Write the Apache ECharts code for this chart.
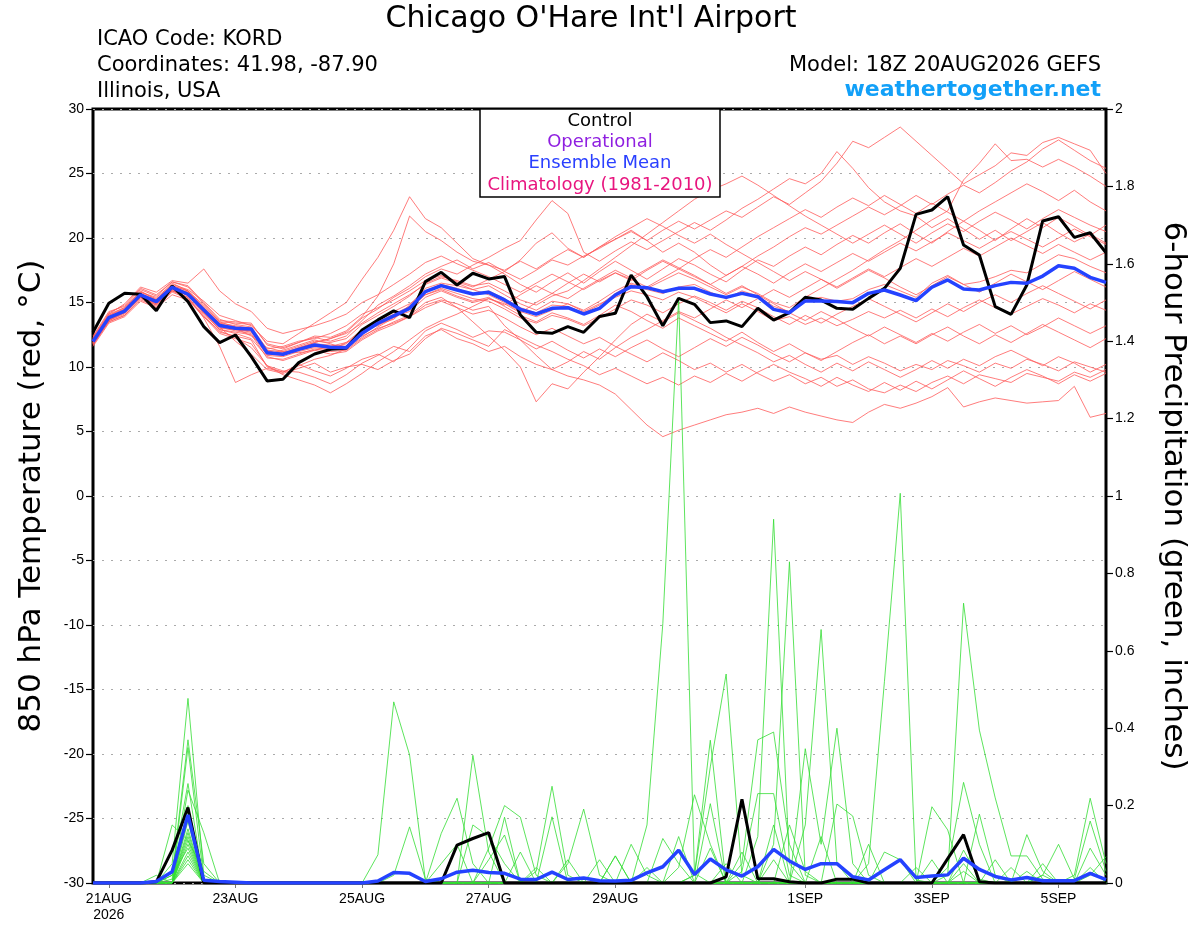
<!DOCTYPE html>
<html>
<head>
<meta charset="utf-8">
<script src="https://cdn.jsdelivr.net/npm/echarts/dist/echarts.min.js"></script>
<style>html,body{margin:0;padding:0;background:#fff}#c{width:1200px;height:927px}</style>
</head>
<body>
<div id="c"></div>
<script>
// forecast hours from 18Z 20AUG2026, every 6 h
const hours = [];
for (let h = 0; h <= 384; h += 6) hours.push(h);
const tickIdx = [1, 9, 17, 25, 33, 45, 53, 61];
const tickText = ['21AUG\n2026', '23AUG', '25AUG', '27AUG', '29AUG', '1SEP', '3SEP', '5SEP'];

// ensemble mean & control 850 hPa temperature (C)
const meanT = [
 11.97,13.83,14.34,15.59,15.07,16.18,15.64,14.42,13.21,13.0,12.95,11.11,10.99,
 11.37,11.71,11.53,11.50,12.61,13.39,13.96,14.55,15.84,16.31,15.97,15.66,15.79,
 15.20,14.47,14.11,14.55,14.60,14.11,14.55,15.58,16.23,16.15,15.84,16.10,16.10,
 15.66,15.40,15.71,15.45,14.47,14.21,15.12,15.12,15.07,14.99,15.71,15.97,15.58,
 15.14,16.18,16.75,16.05,15.97,16.31,16.56,16.49,17.05,17.85,17.65,16.95,16.56];
const controlT = [
 12.7,14.94,15.71,15.64,14.37,16.28,15.07,13.13,11.89,12.48,10.80,8.92,9.05,
 10.34,11.01,11.37,11.45,12.87,13.65,14.35,13.83,16.62,17.34,16.36,17.27,16.83,
 17.01,14.03,12.69,12.61,13.13,12.69,13.91,14.16,17.13,15.45,13.20,15.32,14.86,
 13.44,13.57,13.13,14.55,13.64,14.21,15.40,15.19,14.55,14.47,15.32,16.10,17.65,
 21.83,22.17,23.20,19.46,18.68,14.68,14.08,16.36,21.32,21.65,20.05,20.41,18.86];

// ensemble member temperatures
const t01 = [12.1,14.0,14.6,15.8,15.4,16.4,16.0,15.1,14.0,13.6,13.2,12.0,11.8,
 12.6,13.4,14.2,15.0,16.8,18.5,20.6,23.2,21.5,20.8,19.6,18.4,17.9,
 17.2,16.4,15.8,16.6,17.3,16.5,17.4,18.2,17.5,16.8,17.6,18.4,17.9,
 17.2,16.6,17.5,18.3,17.8,18.6,19.3,18.7,19.5,20.2,19.6,20.4,21.1,
 20.3,19.6,20.5,21.3,20.6,19.8,20.7,21.5,20.8,21.6,20.9,20.2,21.0];
const t02 = [11.7,13.5,14.0,15.2,14.7,15.8,15.3,13.9,12.6,12.2,11.8,10.1,9.7,
 9.6,9.2,8.7,9.4,10.3,10.9,11.6,11.2,12.4,12.9,12.2,11.8,11.2,
 11.6,10.8,10.2,9.8,9.3,9.0,8.6,7.9,6.7,5.5,4.6,5.1,5.5,
 5.9,6.3,6.5,6.8,6.4,6.9,6.5,6.2,5.9,5.7,6.5,7.1,6.8,
 7.2,7.7,8.4,6.9,7.3,7.6,7.4,7.2,7.3,7.4,8.5,6.1,6.4];
const t03 = [12.0,13.9,14.5,15.9,15.2,16.5,15.9,14.8,13.5,13.4,13.3,11.8,11.5,
 11.9,12.3,12.0,12.4,13.6,14.8,15.5,16.3,17.2,17.8,18.3,17.6,18.1,
 17.4,16.8,17.5,18.3,17.9,18.6,19.2,19.9,20.5,19.8,20.6,21.3,20.7,
 21.4,22.1,21.6,22.4,23.2,22.6,23.5,24.4,25.8,27.5,27.0,27.8,28.6,
 27.5,26.4,25.3,24.2,24.9,25.6,26.6,26.4,27.4,27.8,27.3,26.8,25.0];
const t04 = [12.3,14.2,14.8,16.1,15.6,16.6,16.3,15.0,13.7,13.3,13.1,11.4,11.6,
 12.0,12.2,12.6,13.2,14.1,14.6,15.2,15.9,16.7,17.1,16.6,16.2,16.8,
 17.4,18.3,19.6,20.4,19.2,18.5,19.3,19.9,20.6,19.8,18.9,19.6,18.9,
 17.9,17.1,17.8,18.6,19.3,20.1,20.8,20.3,21.0,21.7,22.4,21.8,22.5,
 23.3,22.6,23.4,24.1,23.5,24.3,25.2,25.9,26.9,27.6,26.8,26.0,25.4];
const t05 = [11.8,13.7,14.4,15.5,15.1,16.0,15.8,14.6,13.4,12.9,12.7,11.3,10.9,
 11.5,11.9,12.2,12.7,13.8,14.5,15.4,16.1,17.0,17.6,17.2,17.9,18.5,
 19.2,19.8,21.4,22.9,21.9,18.9,18.2,19.0,19.7,19.1,19.8,20.5,21.2,
 20.6,21.4,22.3,23.0,23.8,24.6,24.2,25.0,26.7,25.4,23.9,22.8,22.1,
 21.7,20.8,21.5,20.7,19.9,20.6,19.8,20.5,21.2,20.4,19.7,20.3,19.6];
const t06 = [11.9,13.6,14.1,15.4,14.8,16.1,15.5,14.2,12.9,12.6,12.2,10.8,10.5,
 10.9,11.3,11.0,11.2,12.1,12.8,13.3,13.9,14.6,15.1,14.6,14.1,14.4,
 13.8,13.1,12.5,13.0,12.4,11.8,12.3,11.6,11.0,10.4,11.1,10.5,9.8,
 10.3,9.6,10.2,9.5,8.9,9.4,8.7,9.2,8.5,9.0,8.3,8.0,8.6,
 8.1,8.8,9.3,8.7,9.4,9.1,8.8,9.5,9.2,8.9,9.6,9.2,9.8];
const t07 = [12.2,13.9,14.2,15.4,14.9,15.9,15.4,13.8,11.6,8.8,9.4,9.9,9.6,
 10.1,10.6,10.9,11.4,12.3,13.1,13.8,14.5,15.6,16.0,15.5,15.1,15.4,
 14.7,14.0,13.5,14.2,13.8,13.3,14.0,14.8,14.3,13.6,13.0,13.8,13.2,
 12.6,12.0,12.7,11.9,11.2,11.8,11.1,10.6,10.9,10.2,10.8,10.3,9.7,
 10.2,9.8,10.5,10.1,9.6,10.3,9.9,10.6,10.2,9.7,10.4,10.0,9.6];
const t08 = [11.6,13.4,13.9,15.1,14.6,15.6,15.2,13.9,12.8,12.3,11.5,10.1,9.4,
 9.0,8.6,8.0,8.7,9.5,10.4,11.2,12.1,13.0,13.6,14.1,14.7,15.3,
 14.8,15.6,16.3,15.7,16.5,17.2,16.6,17.3,16.7,17.5,18.2,17.6,18.4,
 19.1,18.5,19.3,20.1,20.8,21.5,22.2,21.6,22.4,23.1,22.5,23.3,22.6,
 21.9,22.7,22.0,21.3,22.1,22.8,23.5,24.2,23.6,22.9,23.7,22.8,22.1];
const t09 = [11.9,13.8,14.4,15.7,15.1,16.2,15.8,14.5,13.3,13.1,13.0,11.2,11.1,
 11.5,11.8,11.7,11.6,12.7,13.5,14.1,14.7,15.9,16.4,16.1,15.6,15.9,
 15.3,14.6,14.2,14.8,14.7,14.2,14.8,15.7,16.4,16.0,15.7,16.2,16.4,
 15.8,15.3,15.9,15.5,14.7,14.3,15.2,15.4,15.1,15.3,16.0,16.4,15.9,
 15.4,16.5,17.1,16.4,16.6,17.0,17.5,17.3,18.0,18.7,18.4,17.8,17.3];
const t10 = [12.0,13.7,14.2,15.5,15.0,16.0,15.6,14.3,13.1,12.8,12.6,10.9,10.8,
 11.2,11.5,11.3,11.9,12.9,13.2,13.9,14.3,15.4,15.9,15.4,15.0,15.3,
 14.9,14.2,15.0,15.7,15.3,16.1,16.8,17.5,16.9,17.6,18.3,17.7,17.1,
 16.4,15.7,16.3,15.6,14.9,14.2,13.6,14.3,13.7,13.0,12.4,13.1,12.5,
 11.9,12.6,12.0,12.7,13.3,12.6,13.2,12.5,13.1,13.8,13.2,12.6,13.2];
const t11 = [12.4,14.3,14.7,16.0,15.5,16.6,16.2,14.9,13.6,13.5,13.4,11.7,11.4,
 11.9,12.4,12.3,12.8,13.9,15.5,18.0,21.7,20.5,19.8,18.9,18.2,17.9,
 17.5,18.2,17.6,18.4,19.1,18.5,19.3,20.1,20.8,21.5,20.9,20.2,19.6,
 20.3,19.5,18.8,18.1,17.4,16.7,17.4,16.8,16.1,16.8,17.5,16.9,16.2,
 15.6,16.3,17.0,16.4,15.8,16.5,17.2,16.6,16.0,16.7,17.4,16.8,16.2];
const t12 = [11.8,13.5,14.0,15.3,14.8,15.9,15.4,14.0,12.7,12.4,12.1,10.0,9.6,
 10.2,9.7,9.3,9.9,10.6,11.0,10.4,11.5,12.8,13.4,12.9,12.3,12.8,
 12.7,12.1,11.4,12.0,11.3,10.7,11.4,10.8,11.5,12.1,11.4,10.8,11.5,
 12.2,11.6,12.3,11.7,11.0,10.4,11.1,10.5,11.2,11.9,12.5,11.8,12.4,
 11.8,12.5,13.1,12.4,11.8,12.5,11.9,12.6,13.3,12.7,12.1,11.5,12.2];
const t13 = [12.1,14.1,14.6,15.8,15.3,16.3,15.9,14.6,13.4,13.2,13.0,11.3,11.2,
 11.6,12.0,11.9,12.2,13.3,14.0,14.7,15.5,16.5,17.0,16.7,16.3,16.5,
 15.9,15.2,14.8,15.5,15.9,16.7,17.6,18.5,19.4,20.3,21.2,22.1,23.0,
 23.7,24.2,24.8,24.1,23.3,22.5,21.7,21.0,20.3,19.6,20.3,21.0,20.3,
 19.6,20.4,21.1,20.5,21.3,22.0,21.4,20.7,21.5,22.2,21.6,21.0,20.5];
const t14 = [11.7,13.6,14.2,15.4,14.9,16.0,15.6,14.1,12.9,12.7,12.5,10.7,10.6,
 11.0,11.4,11.2,11.3,12.2,12.9,13.5,14.0,15.0,15.4,14.6,13.5,12.4,
 11.3,10.0,7.3,8.7,8.3,9.6,10.8,12.1,13.3,14.1,13.5,14.2,13.6,
 13.0,12.3,11.7,11.1,10.4,10.9,10.2,9.6,10.3,9.7,10.4,9.8,9.2,
 9.8,10.5,9.9,10.6,10.1,10.8,11.3,10.7,10.1,10.8,10.3,9.6,10.2];
const t15 = [12.0,13.9,14.4,15.6,15.2,16.1,15.7,14.5,13.3,12.9,12.8,11.0,11.3,
 11.7,12.1,11.8,11.4,12.5,13.3,13.7,14.8,16.1,16.5,16.3,16.0,15.6,
 15.0,14.3,13.9,14.4,14.9,14.3,14.9,15.4,15.9,15.6,15.2,15.8,15.4,
 14.8,14.2,14.9,14.3,13.6,13.9,13.3,13.8,13.2,13.7,14.3,13.8,14.4,
 13.8,14.5,13.9,14.6,15.2,14.6,14.1,14.7,15.3,14.8,14.2,14.9,14.4];
const t16 = [12.3,14.1,14.9,16.2,15.8,16.7,16.5,17.6,15.9,14.9,14.3,13.0,12.6,
 12.9,13.2,13.6,14.1,15.0,15.6,16.4,17.2,18.1,18.6,18.0,17.5,17.0,
 16.4,15.8,16.5,17.2,16.6,16.0,16.7,17.3,16.8,16.2,16.9,17.6,17.0,
 16.4,17.1,17.8,17.2,16.5,17.3,18.0,17.4,18.1,18.8,18.2,18.9,19.6,
 19.0,19.7,20.4,19.8,19.2,19.9,20.5,19.9,19.3,20.0,20.7,20.1,19.5];
const t17 = [11.9,13.7,14.3,15.5,14.9,16.1,15.6,14.2,13.0,12.9,12.8,11.0,10.9,
 11.3,11.6,11.4,11.8,12.8,13.6,14.3,14.9,15.6,16.1,15.7,15.3,15.1,
 14.5,13.8,13.4,14.0,13.7,13.2,13.8,14.5,15.2,14.8,14.2,14.9,15.5,
 15.0,14.4,15.1,14.6,13.9,13.3,14.0,13.4,14.1,14.7,15.3,14.7,14.1,
 13.5,14.2,14.9,14.3,15.0,15.6,15.0,15.7,16.3,15.7,15.1,14.5,15.2];
const t18 = [12.2,14.0,14.5,15.7,15.2,16.3,15.9,14.7,13.5,13.1,12.9,11.2,11.0,
 11.4,11.9,12.2,12.6,13.4,14.2,14.9,15.6,16.4,16.9,16.5,16.0,16.3,
 15.6,14.9,14.4,15.1,14.9,14.4,15.1,15.9,16.5,16.1,16.7,17.3,16.8,
 16.2,15.6,16.2,15.7,15.0,14.6,15.4,16.1,16.8,17.5,18.3,19.1,19.8,
 20.6,21.4,22.1,24.5,25.8,27.3,26.0,26.1,25.5,26.1,25.5,24.8,24.0];
const t19 = [11.8,13.8,14.3,15.6,15.1,16.2,15.7,14.4,13.2,13.0,12.4,11.5,11.2,
 11.1,11.3,11.6,11.9,12.4,13.0,13.4,13.9,14.8,15.2,14.9,14.4,14.7,
 13.2,12.1,10.9,9.8,10.4,11.2,10.6,11.5,12.3,12.9,13.6,14.3,13.8,
 14.5,15.2,14.6,15.3,16.0,15.4,16.1,16.8,16.2,16.9,17.6,17.0,17.7,
 18.4,17.8,18.5,19.2,18.6,19.3,20.0,19.4,18.8,19.5,18.9,18.3,18.9];
const t20 = [11.9,13.6,14.3,15.4,15.0,15.9,15.6,14.3,13.1,12.0,11.0,9.8,9.5,
 9.9,10.3,9.6,10.0,10.2,9.8,10.5,11.0,12.2,13.0,12.6,12.1,11.6,
 12.9,12.3,11.7,11.2,10.6,10.1,9.4,9.9,9.3,8.7,9.2,8.6,9.3,
 8.8,9.5,8.9,9.6,10.2,9.6,9.1,8.5,9.2,8.6,8.1,8.8,8.2,
 8.9,8.3,9.0,9.7,9.1,8.5,9.2,9.8,9.3,8.7,9.4,8.9,9.5];
const tempMembers = [t01,t02,t03,t04,t05,t06,t07,t08,t09,t10,t11,t12,t13,t14,t15,t16,t17,t18,t19,t20];

// 6-hour precipitation (inches): mean & control
const meanP = [
 0,0,0,0,0.004,0.029,0.176,0.007,0.004,0.002,0,0,0,
 0,0,0,0,0,0.005,0.027,0.025,0.004,0.011,0.028,0.033,0.027,
 0.025,0.010,0.009,0.028,0.009,0.013,0.006,0.005,0.007,0.026,0.042,0.085,0.022,
 0.062,0.034,0.018,0.042,0.087,0.057,0.035,0.050,0.050,0.016,0.008,0.034,0.060,
 0.014,0.018,0.021,0.064,0.035,0.017,0.008,0.014,0.006,0.006,0.006,0.025,0.009];
const controlP = [
 0,0,0,0,0.003,0.085,0.195,0,0,0,0,0,0,
 0,0,0,0,0,0,0,0,0,0,0.098,0.115,0.13,
 0,0,0,0,0,0,0,0,0,0,0,0,0,
 0,0.016,0.216,0.011,0.011,0.003,0,0,0.01,0.01,0,0,0,
 0,0,0.063,0.125,0.003,0,0,0,0,0,0,0,0];

// ensemble member precipitation
const p01 = [0,0,0,0,0,0.05,0.477,0.02,0,0,0,0,0, 0,0,0,0,0,0,0,0,0,0,0,0.33,0.08,
 0,0,0,0,0,0,0,0,0,0.15,0.67,1.51,0.025, 0,0,0,0,0,0,0,0,0,0,0,0,0, 0,0,0,0.05,0,0,0,0,0,0,0,0,0];
const p02 = [0,0,0,0,0,0.02,0.37,0.05,0,0,0,0,0, 0,0,0,0,0,0,0,0,0,0,0,0,0,
 0,0,0.03,0.25,0.02,0,0,0,0,0,0,0,0, 0,0,0,0.12,0.94,0.05,0,0,0,0,0,0,0, 0,0,0,0,0,0,0,0,0,0,0,0,0];
const p03 = [0,0,0,0,0,0.01,0.35,0.01,0,0,0,0,0, 0,0,0,0,0,0,0,0,0,0,0,0,0,
 0,0,0,0,0,0,0,0,0,0,0,0,0, 0,0,0,0,0.10,0.83,0.02,0,0,0,0,0,0, 0,0,0,0,0,0,0,0,0.02,0,0,0,0];
const p04 = [0,0,0,0,0,0.03,0.257,0,0,0,0,0,0, 0,0,0,0,0,0.073,0.468,0.331,0.007,0,0,0,0,
 0,0,0,0,0,0,0,0,0,0,0,0,0, 0,0,0,0,0,0,0.15,0.655,0.05,0,0,0,0, 0,0,0,0,0,0,0,0,0,0,0,0,0];
const p05 = [0,0,0,0,0,0,0.24,0.13,0,0,0,0,0, 0,0,0,0,0,0,0,0,0,0,0,0,0,
 0,0,0,0,0,0,0,0,0,0,0,0,0, 0,0,0,0,0,0,0,0,0,0,0.05,0.52,1.007, 0.008,0,0,0,0,0,0,0,0,0,0,0,0];
const p06 = [0,0,0,0,0,0.15,0.11,0,0,0,0,0,0, 0,0,0,0,0,0,0,0,0,0,0,0,0,
 0.17,0,0,0,0,0,0,0,0,0,0,0,0, 0,0,0,0,0,0,0,0,0,0,0,0,0, 0,0,0.02,0.723,0.395,0.22,0.07,0.07,0.01,0,0,0,0];
const p07 = [0,0,0,0,0,0,0.19,0,0,0,0,0,0, 0,0,0,0,0,0,0.02,0.145,0.01,0,0,0,0,
 0,0,0,0,0,0,0,0,0,0,0,0,0.02, 0.30,0.54,0.02,0,0,0,0,0,0,0,0,0,0, 0,0,0,0,0,0,0,0,0,0,0,0,0];
const p08 = [0,0,0,0,0,0,0.16,0,0,0,0,0,0, 0,0,0,0,0,0,0,0,0,0.128,0.219,0.05,0,
 0,0,0,0,0,0,0,0,0,0,0,0,0, 0,0,0.05,0.37,0.39,0.1,0,0,0,0,0,0,0, 0,0,0,0,0,0,0,0.03,0,0,0,0,0];
const p09 = [0,0,0,0,0,0,0.14,0,0,0,0,0,0, 0,0,0,0,0,0,0,0,0,0,0,0,0,
 0,0,0,0,0.05,0.191,0.02,0,0,0,0,0,0, 0,0,0,0,0,0,0.347,0.1,0.40,0.05,0,0,0, 0,0,0,0,0,0,0,0,0,0,0,0,0];
const p10 = [0,0,0,0,0,0,0.12,0,0,0,0,0,0, 0,0,0,0,0,0,0,0,0,0,0,0,0,
 0,0,0,0.171,0,0,0,0.07,0,0,0,0.04,0.228, 0.1,0,0,0,0,0,0,0,0,0,0,0,0, 0,0,0,0,0,0,0,0,0,0,0.02,0.219,0.05];
const p11 = [0,0,0,0,0,0,0.10,0,0,0,0,0,0, 0,0,0,0,0,0,0,0,0,0,0,0,0.06,
 0.124,0,0,0,0,0,0,0,0,0,0,0,0, 0,0,0.03,0.231,0.231,0.02,0,0,0,0,0,0,0, 0,0,0.04,0.26,0.1,0,0,0,0,0,0,0,0];
const p12 = [0,0,0,0,0,0.02,0.09,0,0,0,0,0,0, 0,0,0,0,0,0,0,0,0,0,0,0,0,
 0,0,0,0,0,0,0,0,0,0,0,0,0.02, 0.369,0,0,0,0,0,0,0,0.204,0.173,0.02,0,0, 0,0.197,0.137,0,0,0,0,0,0,0,0,0,0];
const p13 = [0,0,0,0,0,0,0.08,0,0,0,0,0,0, 0,0,0,0,0,0,0,0,0,0.05,0.1,0,0,
 0,0.08,0,0,0,0,0,0,0,0,0.115,0.05,0, 0.205,0,0,0,0,0,0,0,0,0,0,0,0, 0,0,0,0,0.178,0.02,0,0.125,0.03,0,0,0,0];
const p14 = [0,0,0,0,0,0,0.07,0,0,0,0,0,0, 0,0,0,0,0,0,0,0,0,0,0,0,0,
 0,0,0,0,0,0,0.06,0,0.1,0.02,0,0,0, 0,0,0,0,0,0,0,0,0,0,0,0,0, 0,0,0,0,0,0,0,0,0.02,0.10,0.01,0.16,0.03];
const p15 = [0,0,0,0,0,0,0.06,0,0,0,0,0,0, 0,0,0,0,0,0,0,0,0,0,0,0,0,
 0,0,0,0,0,0,0,0,0,0,0,0,0, 0,0,0.08,0,0,0.15,0.03,0,0,0,0,0.08,0.06, 0,0,0,0,0,0,0,0,0,0,0,0.09,0.02];
const p16 = [0,0,0,0,0.02,0,0.05,0,0,0,0,0,0, 0,0,0,0,0,0,0,0,0,0,0,0.15,0.12,
 0.05,0,0,0,0,0,0,0,0,0,0,0,0, 0,0,0,0,0,0,0,0,0,0,0,0,0, 0,0,0,0.085,0.01,0,0,0,0,0,0,0.02,0.068];
const p17 = [0,0,0,0,0,0,0.2,0.01,0,0,0,0,0, 0,0,0,0,0,0,0,0,0,0,0,0,0,
 0,0,0,0,0,0,0,0.07,0,0.04,0,0.12,0, 0,0,0,0,0,0,0,0,0,0,0,0,0, 0.04,0,0,0,0,0.06,0,0,0,0,0,0,0];
const p18 = [0,0,0,0,0,0,0.13,0,0,0,0,0,0, 0,0,0,0,0,0,0,0,0,0,0,0,0,
 0,0,0,0,0,0,0,0,0,0,0,0,0, 0,0.05,0,0,0,0,0,0.12,0,0,0.1,0,0, 0,0.06,0,0,0,0,0,0,0,0,0,0,0];
const p19 = [0,0,0,0,0,0,0.11,0.03,0,0,0,0,0, 0,0,0,0,0,0,0,0,0,0,0,0,0,
 0,0,0.04,0,0.06,0,0,0,0,0,0,0,0, 0,0,0,0,0.15,0,0,0,0,0,0,0,0, 0,0,0,0,0,0,0.04,0,0.05,0,0,0,0];
const p20 = [0,0,0,0,0,0,0.17,0,0,0,0,0,0, 0,0,0,0,0,0,0,0,0,0,0,0,0.09,0.2,
 0.17,0.02,0,0,0,0,0,0,0,0,0,0,0.09, 0,0,0,0.06,0,0,0,0,0,0,0,0,0, 0,0,0.03,0,0,0,0,0,0,0,0.04,0,0];
const precipMembers = [p01,p02,p03,p04,p05,p06,p07,p08,p09,p10,p11,p12,p13,p14,p15,p16,p17,p18,p19,p20];

const FONT = '"DejaVu Sans", sans-serif';
const TICKFONT = '"Liberation Sans", Arial, sans-serif';

const series = [];
tempMembers.forEach(d => series.push({
  type: 'line', data: d, yAxisIndex: 0, symbol: 'none', silent: true, z: 2,
  lineStyle: { color: '#ff5a5a', width: 0.8 }
}));
precipMembers.forEach(d => series.push({
  type: 'line', data: d, yAxisIndex: 1, symbol: 'none', silent: true, z: 3,
  lineStyle: { color: '#33dd33', width: 0.8 }
}));
series.push({ type: 'line', data: controlT, yAxisIndex: 0, symbol: 'none', z: 5, lineStyle: { color: '#000', width: 3 } });
series.push({ type: 'line', data: meanT, yAxisIndex: 0, symbol: 'none', z: 6, lineStyle: { color: '#2442ff', width: 3.5 } });
series.push({ type: 'line', data: controlP, yAxisIndex: 1, symbol: 'none', z: 5, lineStyle: { color: '#000', width: 3 } });
series.push({ type: 'line', data: meanP, yAxisIndex: 1, symbol: 'none', z: 6, lineStyle: { color: '#2442ff', width: 3.5 } });

const showTick = (i) => tickIdx.indexOf(i) >= 0;

const option = {
  animation: false,
  backgroundColor: '#fff',
  grid: { left: 93, right: 94, top: 109, bottom: 44, show: true, borderColor: '#000', borderWidth: 3, backgroundColor: 'transparent' },
  xAxis: {
    type: 'category', data: hours, boundaryGap: false,
    axisLine: { show: false, onZero: false },
    axisTick: { show: true, interval: showTick, length: 5, lineStyle: { color: '#777' } },
    axisLabel: { interval: showTick, formatter: (v, i) => tickText[tickIdx.indexOf(i)] || '', fontSize: 14, fontFamily: TICKFONT, color: '#000', margin: 8, lineHeight: 16 },
    splitLine: { show: false }
  },
  yAxis: [
    {
      type: 'value', min: -30, max: 30, interval: 5, position: 'left',
      name: '850 hPa Temperature (red, °C)', nameLocation: 'middle', nameGap: 46,
      nameTextStyle: { fontSize: 31, fontFamily: FONT, color: '#000' },
      axisLine: { show: false },
      axisTick: { show: true, length: 7, lineStyle: { color: '#000', width: 1.2 } },
      axisLabel: { fontSize: 14, fontFamily: TICKFONT, color: '#000', margin: 9 },
      splitLine: { show: true, lineStyle: { color: '#aaa', type: [2, 7], width: 1.2 } }
    },
    {
      type: 'value', min: 0, max: 2, interval: 0.2, position: 'right',
      name: '6-hour Precipitation (green, inches)', nameLocation: 'middle', nameGap: 52, nameRotate: -90,
      nameTextStyle: { fontSize: 31, fontFamily: FONT, color: '#000' },
      axisLine: { show: false },
      axisTick: { show: true, length: 7, lineStyle: { color: '#000', width: 1.2 } },
      axisLabel: { fontSize: 14, fontFamily: TICKFONT, color: '#000', margin: 9 },
      splitLine: { show: false }
    }
  ],
  graphic: [
    { type: 'text', x: 591, y: 19, style: { text: "Chicago O'Hare Int'l Airport", font: '30px ' + FONT, fill: '#000', align: 'center', verticalAlign: 'middle' } },
    { type: 'text', x: 97, y: 40, style: { text: 'ICAO Code: KORD', font: '21px ' + FONT, fill: '#000', align: 'left', verticalAlign: 'middle' } },
    { type: 'text', x: 97, y: 66, style: { text: 'Coordinates: 41.98, -87.90', font: '21px ' + FONT, fill: '#000', align: 'left', verticalAlign: 'middle' } },
    { type: 'text', x: 97, y: 92, style: { text: 'Illinois, USA', font: '21px ' + FONT, fill: '#000', align: 'left', verticalAlign: 'middle' } },
    { type: 'text', x: 1101, y: 66, style: { text: 'Model: 18Z 20AUG2026 GEFS', font: '21px ' + FONT, fill: '#000', align: 'right', verticalAlign: 'middle' } },
    { type: 'text', x: 1101, y: 90, style: { text: 'weathertogether.net', font: 'bold 22px ' + FONT, fill: '#12a0f8', align: 'right', verticalAlign: 'middle' } },
    { type: 'rect', z: 100, shape: { x: 480, y: 109, width: 240, height: 88 }, style: { fill: '#fff', stroke: '#000', lineWidth: 1.5 } },
    { type: 'text', z: 101, x: 600, y: 121, style: { text: 'Control', font: '18px ' + FONT, fill: '#000', align: 'center', verticalAlign: 'middle' } },
    { type: 'text', z: 101, x: 600, y: 142, style: { text: 'Operational', font: '18px ' + FONT, fill: '#8f1fe0', align: 'center', verticalAlign: 'middle' } },
    { type: 'text', z: 101, x: 600, y: 163, style: { text: 'Ensemble Mean', font: '18px ' + FONT, fill: '#2a40ff', align: 'center', verticalAlign: 'middle' } },
    { type: 'text', z: 101, x: 600, y: 185, style: { text: 'Climatology (1981-2010)', font: '18px ' + FONT, fill: '#e8157f', align: 'center', verticalAlign: 'middle' } }
  ],
  series: series
};

const chart = echarts.init(document.getElementById('c'), null, { renderer: 'canvas' });
chart.setOption(option);
</script>
</body>
</html>
